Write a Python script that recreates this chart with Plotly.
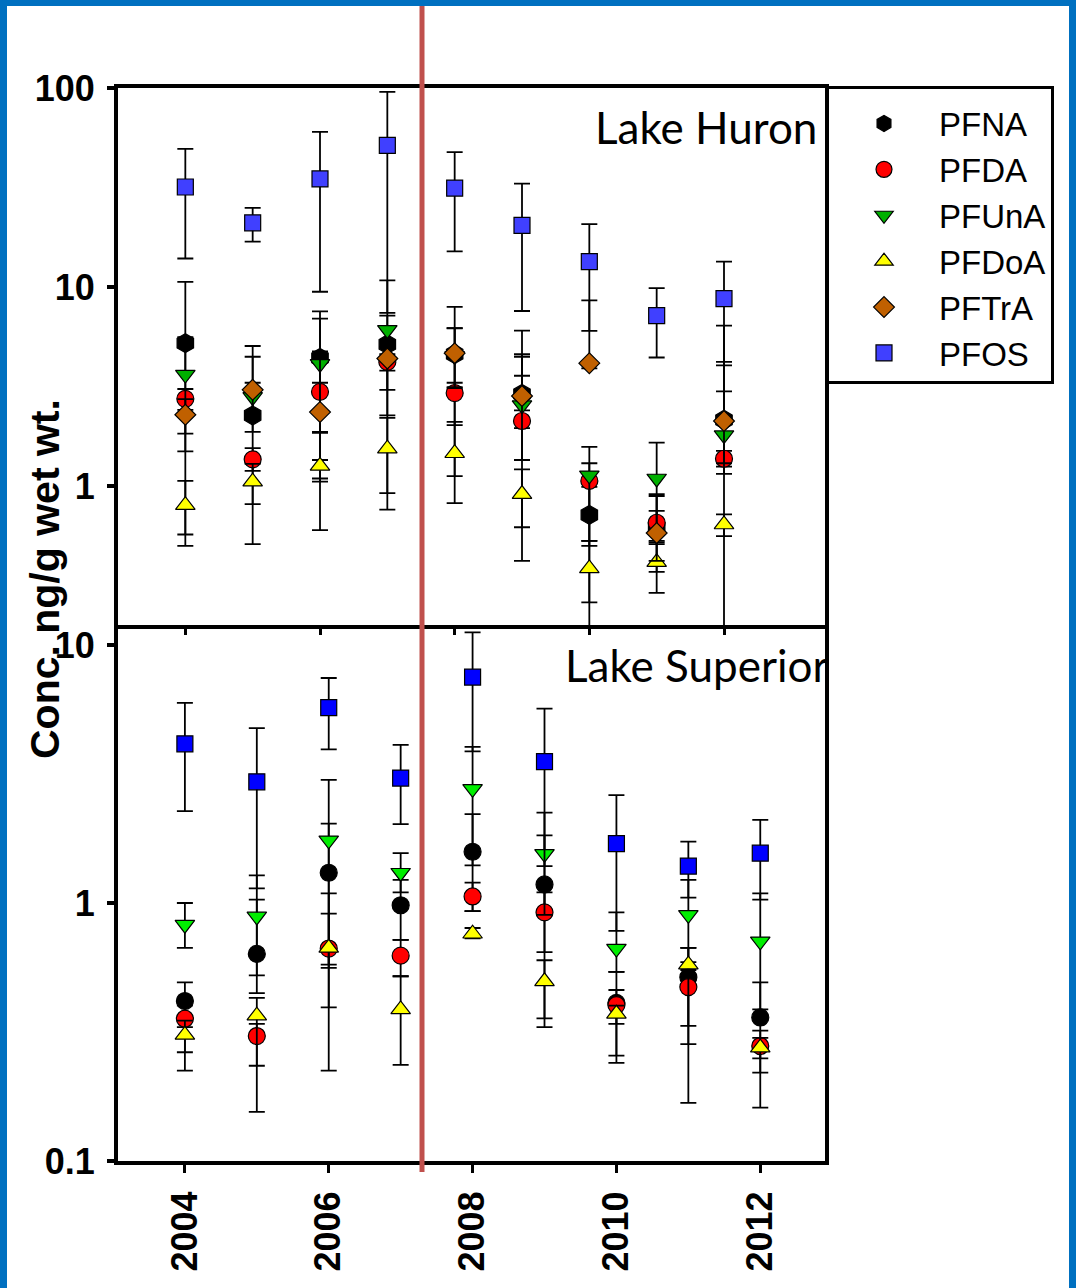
import plotly.graph_objects as go
import math

W, H = 1076, 1288

years = [2004, 2005, 2006, 2007, 2008, 2009, 2010, 2011, 2012]
year_ticks = [2004, 2006, 2008, 2010, 2012]
year_labels = ["2004", "2006", "2008", "2010", "2012"]

# ---- Lake Huron (top panel) : value, upper end, lower end of error bar ----
H_PFNA = [5.22, 2.26, 4.40, 5.15, 4.60, 2.90, 0.715, 0.62, 2.15]
H_PFNA_hi = [10.6, 4.46, 7.54, 10.8, 7.95, 6.03, 0.99, 0.91, 6.39]
H_PFNA_lo = [0.50, 0.51, 1.05, 0.76, 1.12, 0.42, 0.10, 0.37, 0.10]

H_PFDA = [2.74, 1.36, 2.97, 4.20, 2.93, 2.12, 1.06, 0.653, 1.37]
H_PFDA_hi = [3.07, 1.55, 3.30, 4.60, 3.30, 4.46, 1.30, 0.89, 1.50]
H_PFDA_lo = [2.41, 1.19, 1.85, 3.80, 2.02, 1.95, 0.50, 0.51, 1.25]

H_PFUnA = [3.63, 2.80, 4.11, 6.08, 4.50, 2.55, 1.13, 1.09, 1.80]
H_PFUnA_hi = [5.60, 3.30, 6.94, 7.18, 6.20, 3.58, 1.57, 1.65, 2.99]
H_PFUnA_lo = [1.49, 2.30, 0.60, 3.04, 3.14, 2.40, 0.53, 0.53, 1.30]

H_PFDoA = [0.80, 1.05, 1.26, 1.54, 1.46, 0.91, 0.385, 0.414, 0.64]
H_PFDoA_hi = [1.06, 1.29, 1.35, 2.20, 2.10, 1.21, 0.53, 0.52, 0.72]
H_PFDoA_lo = [0.57, 0.81, 1.09, 0.92, 0.82, 0.62, 0.26, 0.29, 0.56]

H_PFTrA = [2.28, 3.04, 2.35, 4.37, 4.65, 2.83, 4.14, 0.58, 2.12]
H_PFTrA_hi = [2.73, 5.05, 4.75, 5.00, 6.21, 4.59, 8.57, 0.75, 4.20]
H_PFTrA_lo = [1.83, 1.87, 1.87, 2.26, 3.10, 1.35, 3.90, 0.42, 1.15]

H_PFOS = [31.8, 21.0, 34.9, 51.5, 31.4, 20.4, 13.4, 7.17, 8.74]
H_PFOS_hi = [49.4, 25.0, 60.2, 95.7, 47.6, 33.1, 20.7, 9.86, 13.4]
H_PFOS_lo = [13.9, 16.9, 9.46, 7.41, 15.1, 7.57, 6.01, 4.42, 4.04]

# ---- Lake Superior (bottom panel) ----
S_PFNA = [0.417, 0.635, 1.31, 0.98, 1.58, 1.18, 0.41, 0.516, 0.36]
S_PFNA_hi = [0.492, 1.28, 2.03, 1.23, 2.21, 1.83, 0.541, 0.67, 0.492]
S_PFNA_lo = [0.33, 0.447, 0.56, 0.72, 0.93, 0.357, 0.256, 0.334, 0.220]

S_PFDA = [0.356, 0.305, 0.666, 0.625, 1.06, 0.92, 0.402, 0.472, 0.279]
S_PFDA_hi = [0.40, 0.34, 1.09, 0.72, 1.20, 1.10, 0.46, 0.55, 0.32]
S_PFDA_lo = [0.264, 0.155, 0.224, 0.52, 0.93, 0.645, 0.240, 0.168, 0.161]

S_PFUnA = [0.824, 0.887, 1.75, 1.31, 2.77, 1.55, 0.666, 0.90, 0.71]
S_PFUnA_hi = [1.0, 1.03, 3.0, 1.56, 4.03, 2.24, 0.92, 1.23, 1.09]
S_PFUnA_lo = [0.67, 0.524, 0.394, 1.10, 1.40, 0.90, 0.541, 0.59, 0.387]

S_PFDoA = [0.308, 0.366, 0.67, 0.387, 0.76, 0.497, 0.372, 0.577, 0.275]
S_PFDoA_hi = [0.35, 0.429, 0.91, 0.52, 0.80, 0.60, 0.40, 0.67, 0.30]
S_PFDoA_lo = [0.224, 0.234, 0.577, 0.236, 0.73, 0.330, 0.34, 0.284, 0.25]

S_PFOS = [4.14, 2.95, 5.72, 3.05, 7.51, 3.53, 1.70, 1.39, 1.56]
S_PFOS_hi = [5.97, 4.76, 7.45, 4.10, 11.2, 5.67, 2.62, 1.73, 2.10]
S_PFOS_lo = [2.27, 1.14, 3.94, 2.02, 3.87, 1.39, 0.78, 1.05, 1.03]

fig = go.Figure()


def add(name, vals, hi, lo, symbol, color, size, xa, ya, showlegend):
    fig.add_trace(go.Scatter(
        x=years, y=vals, mode="markers", name=name,
        xaxis=xa, yaxis=ya, showlegend=showlegend,
        marker=dict(symbol=symbol, color=color, size=size,
                    line=dict(color="black", width=1.2)),
        error_y=dict(type="data", symmetric=False,
                     array=[h - v for h, v in zip(hi, vals)],
                     arrayminus=[v - l for v, l in zip(vals, lo)],
                     color="black", thickness=1.8, width=8),
    ))


# top panel
add("PFNA", H_PFNA, H_PFNA_hi, H_PFNA_lo, "hexagon", "black", 19, "x", "y", True)
add("PFDA", H_PFDA, H_PFDA_hi, H_PFDA_lo, "circle", "#FF0000", 17, "x", "y", True)
add("PFUnA", H_PFUnA, H_PFUnA_hi, H_PFUnA_lo, "triangle-down", "#00B000", 17, "x", "y", True)
add("PFDoA", H_PFDoA, H_PFDoA_hi, H_PFDoA_lo, "triangle-up", "#FFFF00", 17, "x", "y", True)
add("PFTrA", H_PFTrA, H_PFTrA_hi, H_PFTrA_lo, "diamond", "#C06000", 16, "x", "y", True)
add("PFOS", H_PFOS, H_PFOS_hi, H_PFOS_lo, "square", "#4040FF", 16, "x", "y", True)

# bottom panel
add("PFNA", S_PFNA, S_PFNA_hi, S_PFNA_lo, "circle", "black", 17, "x2", "y2", False)
add("PFDA", S_PFDA, S_PFDA_hi, S_PFDA_lo, "circle", "#FF0000", 17, "x2", "y2", False)
add("PFUnA", S_PFUnA, S_PFUnA_hi, S_PFUnA_lo, "triangle-down", "#00EE00", 17, "x2", "y2", False)
add("PFDoA", S_PFDoA, S_PFDoA_hi, S_PFDoA_lo, "triangle-up", "#FFFF00", 17, "x2", "y2", False)
add("PFOS", S_PFOS, S_PFOS_hi, S_PFOS_lo, "square", "#0000FF", 16, "x2", "y2", False)


def py(p):
    return 1 - p / H


def px(p):
    return p / W


tickfont_y = dict(family="Liberation Sans Narrow, Arial Narrow, Liberation Sans, Arial",
                  size=36, color="black", weight="bold")
tickfont_x = dict(family="Liberation Sans, Arial", size=36, color="black", weight="bold")

common_axis = dict(showline=True, linecolor="black", linewidth=4, mirror=True,
                   showgrid=False, zeroline=False, ticks="outside", tickcolor="black",
                   automargin=False)

fig.update_layout(
    template="none",
    width=W, height=H,
    margin=dict(l=0, r=0, t=0, b=0, pad=0, autoexpand=False),
    paper_bgcolor="white", plot_bgcolor="white",
    xaxis=dict(domain=[px(118), px(825)], range=[2003.0, 2013.5], anchor="y",
               tickvals=year_ticks, showticklabels=False, ticklen=6, tickwidth=3,
               **common_axis),
    yaxis=dict(domain=[py(625), py(88)], type="log",
               range=[math.log10(0.2), 2], anchor="x",
               tickvals=[1, 10, 100], ticktext=["1", "10", "100"],
               ticklen=7, tickwidth=4, tickfont=tickfont_y, ticklabelstandoff=5,
               **common_axis),
    xaxis2=dict(domain=[px(118), px(825)], range=[2003.07, 2012.9], anchor="y2",
                tickvals=year_ticks, ticktext=year_labels, tickangle=-90,
                ticklen=8, tickwidth=3, tickfont=tickfont_x, ticklabelstandoff=4,
                **common_axis),
    yaxis2=dict(domain=[py(1161), py(629)], type="log", range=[-1, 1.062], anchor="x2",
                tickvals=[0.1, 1, 10], ticktext=["0.1", "1", "10"],
                ticklen=7, tickwidth=4, tickfont=tickfont_y, ticklabelstandoff=5,
                **common_axis),
    legend=dict(x=px(826), y=py(86), xanchor="left", yanchor="top",
                bgcolor="white", bordercolor="black", borderwidth=3,
                font=dict(family="Liberation Sans, Arial", size=33, color="black"),
                title=dict(text=" ", font=dict(size=5)),
                itemwidth=100, itemsizing="trace"),
    showlegend=True,
)

fig.add_annotation(text="Lake Huron", xref="paper", yref="paper",
                   x=px(819), y=py(127), xanchor="right", yanchor="middle",
                   showarrow=False, font=dict(family="Lato, Open Sans", size=44, color="black"))
fig.add_annotation(text="Lake Superior", xref="paper", yref="paper",
                   x=px(830), y=py(665), xanchor="right", yanchor="middle",
                   showarrow=False, font=dict(family="Lato, Open Sans", size=44, color="black"))
fig.add_annotation(text="<b>Conc. ng/g wet wt.</b>", xref="paper", yref="paper",
                   x=px(45), y=py(579), xanchor="center", yanchor="middle", textangle=-90,
                   showarrow=False, font=dict(family="Liberation Sans, Arial", size=41, color="black"))

# frame and marker line
blue = "#0070C0"
fig.add_shape(type="rect", xref="paper", yref="paper", x0=0, x1=px(7), y0=0, y1=1,
              fillcolor=blue, line=dict(width=0), layer="above")
fig.add_shape(type="rect", xref="paper", yref="paper", x0=0, x1=1, y0=py(6), y1=1,
              fillcolor=blue, line=dict(width=0), layer="above")
fig.add_shape(type="rect", xref="paper", yref="paper", x0=px(1069), x1=1, y0=0, y1=1,
              fillcolor=blue, line=dict(width=0), layer="above")
fig.add_shape(type="line", xref="paper", yref="paper", x0=px(422), x1=px(422),
              y0=py(1172), y1=py(6), line=dict(color="#C0504D", width=5), layer="above")

fig.write_html("out.html")
